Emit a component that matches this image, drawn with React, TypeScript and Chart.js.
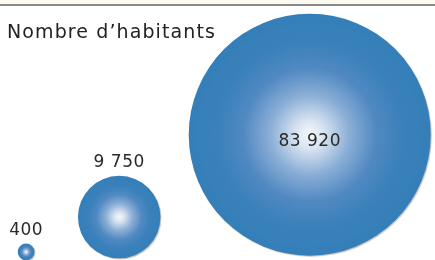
import { useEffect, useRef } from 'react';
import { Chart, registerables } from 'chart.js';

Chart.register(...registerables);

const title = 'Nombre d’habitants';
const categories = ['A', 'B', 'C'];
const populations = [400, 9750, 83920];
const valueLabels = ['400', '9 750', '83 920'];
// placement of the bubble centres in axis units (x: 0..10, y: 0..10)
const xValues = [0.6, 2.74, 7.12];
const yValues = [0.31, 1.65, 4.82];

const MAX_R = 121;
const FONT = '"DejaVu Sans", sans-serif';

export default function App() {
  const ref = useRef<HTMLCanvasElement | null>(null);

  useEffect(() => {
    if (!ref.current) return;
    const vmax = Math.max(...populations);
    const data = populations.map((v, i) => ({
      x: xValues[i],
      y: yValues[i],
      r: MAX_R * Math.sqrt(v / vmax),
      v,
    }));

    const decorPlugin = {
      id: 'decor',
      beforeDraw(chart: any) {
        const ctx = chart.ctx;
        ctx.save();
        ctx.fillStyle = '#ffffff';
        ctx.fillRect(0, 0, chart.width, chart.height);
        ctx.fillStyle = '#fcfaef';
        ctx.fillRect(0, 0, chart.width, 4);
        ctx.fillStyle = '#8a8a8a';
        ctx.fillRect(0, 4, chart.width, 2);
        ctx.fillStyle = '#222';
        ctx.font = `19px ${FONT}`;
        (ctx as any).letterSpacing = '1.1px';
        ctx.textBaseline = 'alphabetic';
        ctx.textAlign = 'left';
        ctx.fillText(title, 7, 38);
        ctx.restore();
      },
      beforeDatasetsDraw(chart: any) {
        const ctx = chart.ctx;
        ctx.save();
        ctx.shadowColor = 'rgba(0,0,0,0.25)';
        ctx.shadowOffsetX = 1;
        ctx.shadowOffsetY = 1;
        ctx.shadowBlur = 1;
      },
      afterDatasetsDraw(chart: any) {
        const ctx = chart.ctx;
        ctx.restore();
        ctx.save();
        const meta = chart.getDatasetMeta(0);
        ctx.fillStyle = '#2a2a2a';
        ctx.font = `17px ${FONT}`;
        (ctx as any).letterSpacing = '0.5px';
        ctx.textAlign = 'center';
        meta.data.forEach((el: any, i: number) => {
          const r = el.options.radius;
          ctx.textBaseline = 'alphabetic';
          if (r > 60) {
            ctx.fillText(valueLabels[i], el.x, el.y + 11);
          } else {
            ctx.fillText(valueLabels[i], el.x, el.y - r - 9);
          }
        });
        ctx.restore();
      },
    };

    const chart = new Chart(ref.current, {
      type: 'bubble',
      data: {
        labels: categories,
        datasets: [
          {
            data: data as any,
            borderWidth: 0,
            clip: false as any,
            backgroundColor: (c: any) => {
              const chartObj = c.chart;
              const raw = c.raw;
              if (!raw || !chartObj.scales || !chartObj.scales.x) return '#3880bb';
              const px = chartObj.scales.x.getPixelForValue(raw.x);
              const py = chartObj.scales.y.getPixelForValue(raw.y);
              const r = raw.r;
              if (!isFinite(px) || !isFinite(py) || !isFinite(r)) return '#3880bb';
              const g = chartObj.ctx.createRadialGradient(px, py, 0, px, py, r);
              g.addColorStop(0, '#f6f8fc');
              g.addColorStop(0.12, '#d8e3f1');
              g.addColorStop(0.33, '#8aaed6');
              g.addColorStop(0.55, '#5189c2');
              g.addColorStop(0.75, '#3b81bb');
              g.addColorStop(1, '#347fb9');
              return g;
            },
            hoverRadius: 0,
          },
        ],
      },
      options: {
        animation: false,
        responsive: false,
        events: [],
        layout: { padding: 0, autoPadding: false },
        plugins: {
          legend: { display: false },
          title: { display: false },
          tooltip: { enabled: false },
        },
        scales: {
          x: { type: 'linear', min: 0, max: 10, display: false },
          y: { type: 'linear', min: 0, max: 10, display: false },
        },
      },
      plugins: [decorPlugin],
    });
    return () => chart.destroy();
  }, []);

  return (
    <div style={{ position: 'fixed', left: 0, top: 0, width: 435, height: 260 }}>
      <canvas ref={ref} width={435} height={260} style={{ display: 'block' }} />
    </div>
  );
}
